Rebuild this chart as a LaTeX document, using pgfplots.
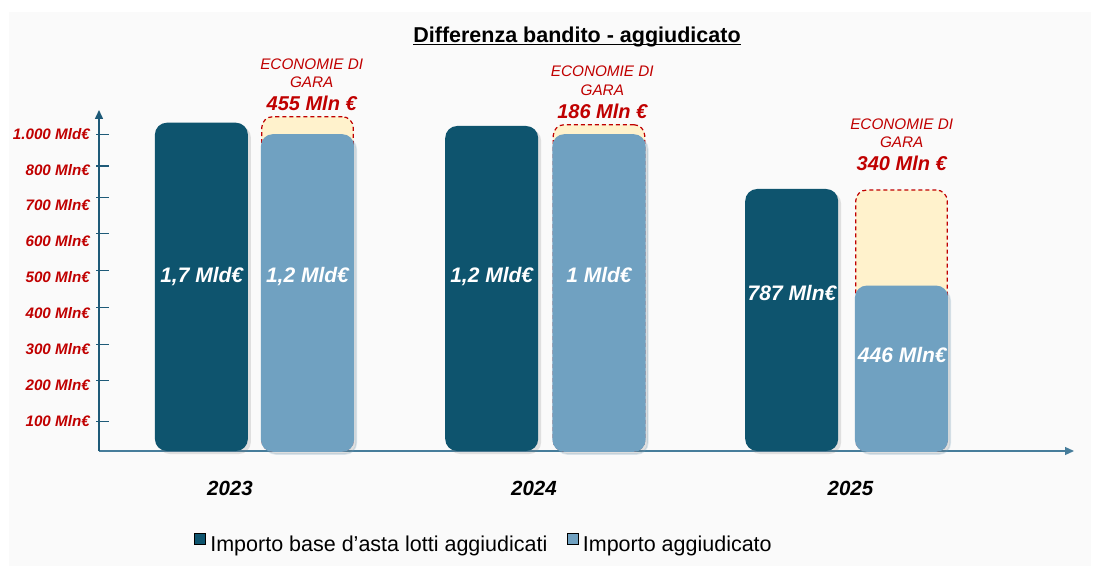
\documentclass[border=0pt]{standalone}
\usepackage{pgfplots}
\pgfplotsset{compat=1.18}
\usepackage{fontspec}
\setmainfont{Liberation Sans}
\usetikzlibrary{arrows.meta,shadows}
\definecolor{darkbar}{RGB}{14,84,110}
\definecolor{lightbar}{RGB}{112,161,193}
\definecolor{gapfill}{RGB}{255,242,204}
\definecolor{redtxt}{RGB}{192,0,0}
\definecolor{yax}{RGB}{30,90,120}
\definecolor{xax}{RGB}{70,125,155}
\definecolor{panel}{RGB}{250,250,250}
\newcommand{\fs}[1]{\fontsize{#1bp}{1.2\dimexpr#1bp\relax}\selectfont}
\begin{document}
\begin{tikzpicture}
\useasboundingbox[fill=white] (0,0) rectangle (1099bp,574bp);
\fill[panel] (9bp,8bp) rectangle (1091bp,562bp);
\begin{axis}[
  at={(99bp,123bp)}, anchor=south west,
  x=1bp, y=1bp,
  xmin=99, xmax=1074, ymin=0, ymax=341,
  enlargelimits=false,
  axis lines=left,
  clip=false,
  x axis line style={draw=xax, line width=1.3bp, -{Triangle[length=9bp,width=8bp]}},
  y axis line style={draw=yax, line width=1.5bp, -{Triangle[length=9bp,width=8bp]}},
  major tick length=0pt,
  xtick={230,534,850.5},
  xticklabels={2023,2024,2025},
  xticklabel style={anchor=center, yshift=-37bp, inner sep=0pt, font=\fs{20.5}\bfseries\itshape},
  xtick style={draw=none},
  ytick={29.7,66.3,102.3,137.7,173.7,210,246,281,316.7},
  yticklabels={100 Mln€,200 Mln€,300 Mln€,400 Mln€,500 Mln€,600 Mln€,700 Mln€,800 Mln€,1.000 Mld€},
  yticklabel style={anchor=east, xshift=-9bp, inner sep=0pt, font=\fs{15.2}\bfseries\itshape, text=redtxt},
  extra y ticks={29.7,70.7,106.7,143.7,180.3,217.3,253.7,285,316.7},
  extra y tick labels={},
  extra y tick style={major tick length=12bp, tick align=inside, tick style={draw=yax, line width=1.4bp, xshift=-2.5bp}},
  legend image code/.code={\fill[#1] (0bp,0bp) rectangle (11.3bp,11.3bp);},
  legend columns=2,
  legend style={at={(rel axis cs:0.0974,-0.27)}, anchor=west, draw=none, fill=none, inner sep=0pt,
    font=\fs{21.5}, nodes={inner sep=0pt},
    /tikz/every odd column/.append style={column sep=4.5bp},
    /tikz/every even column/.append style={column sep=19.3bp}},
]
\addplot[ybar, bar width=93bp, bar shift=0pt, fill=darkbar, draw=none, rounded corners=12bp,
  drop shadow={shadow xshift=3bp, shadow yshift=-3bp, opacity=0.22}, forget plot]
  coordinates {(201.4,328.3) (491.7,325) (791.7,262)};
\addplot[ybar, bar width=91.5bp, bar shift=0pt, fill=gapfill, draw=redtxt, line width=1.2bp,
  dash pattern=on 4bp off 3bp, rounded corners=11bp, forget plot]
  coordinates {(307.5,334.3) (599,326.3) (901.5,261)};
\addplot[ybar, bar width=91.5bp, bar shift=0pt, fill=lightbar, draw=lightbar, line width=1.6bp, rounded corners=11bp,
  drop shadow={shadow xshift=3bp, shadow yshift=-3bp, opacity=0.22}, forget plot]
  coordinates {(307.5,316) (599,316) (901.5,164.6)};
\addlegendimage{fill=darkbar}
\addlegendentry{Importo base d’asta lotti aggiudicati}
\addlegendimage{fill=lightbar}
\addlegendentry{Importo aggiudicato}
\end{axis}
% title
\node[font=\fs{21.5}\bfseries, anchor=base, inner sep=0pt] (title) at (577bp,531.7bp) {Differenza bandito - aggiudicato};
\draw[line width=1.5bp] ([yshift=-2.2bp]title.base west) -- ([yshift=-2.2bp]title.base east);
% economie di gara
\begin{scope}[every node/.style={text=redtxt, inner sep=0pt, anchor=center}]
\node[font=\fs{15.3}\itshape] at (311.7bp,510bp) {ECONOMIE DI};
\node[font=\fs{15.3}\itshape] at (311.7bp,491.7bp) {GARA};
\node[font=\fs{20}\bfseries\itshape] at (311.7bp,470.7bp) {455 Mln €};
\node[font=\fs{15.3}\itshape] at (602.3bp,502.3bp) {ECONOMIE DI};
\node[font=\fs{15.3}\itshape] at (602.3bp,483.3bp) {GARA};
\node[font=\fs{20}\bfseries\itshape] at (602.3bp,462.3bp) {186 Mln €};
\node[font=\fs{15.3}\itshape] at (901.7bp,450bp) {ECONOMIE DI};
\node[font=\fs{15.3}\itshape] at (901.7bp,431.3bp) {GARA};
\node[font=\fs{20}\bfseries\itshape] at (901.7bp,410.7bp) {340 Mln €};
\end{scope}
% bar labels
\begin{scope}[every node/.style={text=white, inner sep=0pt, anchor=base, font=\fs{21}\bfseries\itshape}]
\node at (201.7bp,291.3bp) {1,7 Mld€};
\node at (307.5bp,291.3bp) {1,2 Mld€};
\node at (491.7bp,291.3bp) {1,2 Mld€};
\node at (599bp,291.3bp) {1 Mld€};
\node at (792bp,273.5bp) {787 Mln€};
\node at (902.3bp,211.5bp) {446 Mln€};
\end{scope}
\end{tikzpicture}
\end{document}
